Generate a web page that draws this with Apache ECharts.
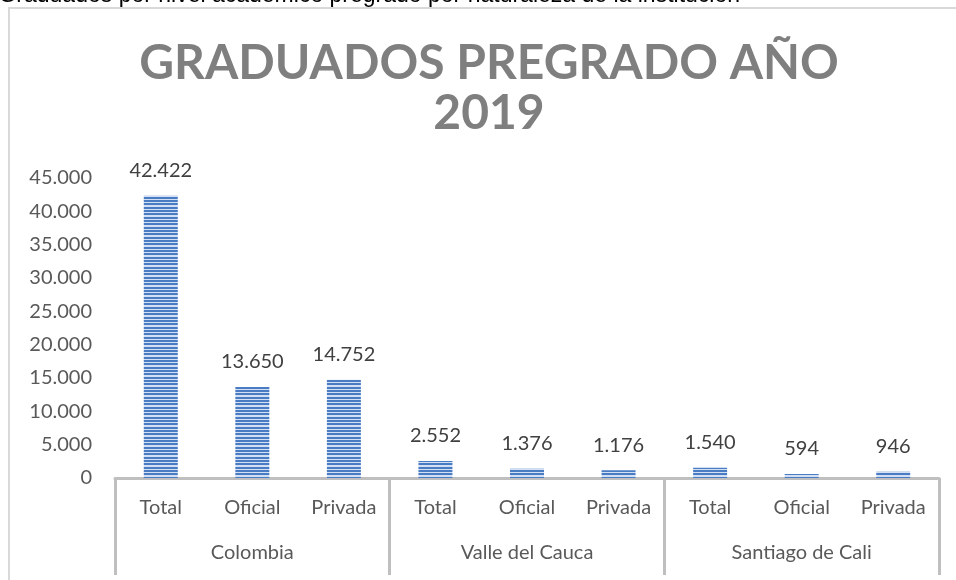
<!DOCTYPE html>
<html>
<head>
<meta charset="utf-8">
<script src="https://cdn.jsdelivr.net/npm/echarts@6/dist/echarts.min.js"></script>
<style>
  html, body { margin: 0; padding: 0; background: #fff; }
  #chart { width: 956px; height: 580px; }
</style>
</head>
<body>
<div id="chart"></div>
<script>
// datos del gráfico
const categorias = ['Total', 'Oficial', 'Privada', 'Total', 'Oficial', 'Privada', 'Total', 'Oficial', 'Privada']
const grupos = ['Colombia', 'Valle del Cauca', 'Santiago de Cali']
const graduados = [42422, 13650, 14752, 2552, 1376, 1176, 1540, 594, 946]
const ejeY = { min: 0, max: 45000, interval: 5000 }

// separador de miles con punto
const miles = v => String(v).replace(/\B(?=(\d{3})+(?!\d))/g, '.')

// trama de rayas horizontales para las barras
const rayas = document.createElement('canvas')
rayas.width = 4
rayas.height = 10
const ctx = rayas.getContext('2d')
ctx.fillStyle = '#d3dff2'
ctx.fillRect(0, 0, 4, 10)
ctx.fillStyle = '#4a7cc4'
;[[0, 2], [3, 2], [7, 2]].forEach(([y, h]) => ctx.fillRect(0, y, 4, h))

const chart = echarts.init(document.getElementById('chart'))

const fuente = 'Lato, "Open Sans", sans-serif'

chart.setOption({
  animation: false,
  title: {
    text: 'GRADUADOS PREGRADO AÑO\n2019',
    left: 484,
    top: 34,
    textAlign: 'center',
    textStyle: {
      fontFamily: fuente,
      fontSize: 48,
      fontWeight: 'bold',
      lineHeight: 50,
      color: '#7f7f7f'
    }
  },
  graphic: [
    {
      type: 'rect',
      shape: { x: 9, y: 8, width: 1000, height: 620 },
      style: { fill: 'none', stroke: '#d9d9d9', lineWidth: 2 },
      silent: true
    },
    {
      // pie de figura del documento, cortado por el borde superior
      type: 'text',
      x: 740,
      y: 7,
      style: {
        text: 'Gráfico 3. Graduados por nivel académico pregrado por naturaleza de la institución',
        font: '23px "Liberation Sans", Arial, sans-serif',
        fill: '#000',
        align: 'right',
        verticalAlign: 'bottom'
      },
      silent: true
    }
  ],
  grid: { left: 115, right: 17, top: 178, bottom: 102 },
  xAxis: [
    {
      type: 'category',
      data: categorias,
      position: 'bottom',
      axisLine: { lineStyle: { color: '#bfbfbf', width: 3 } },
      axisTick: { show: false },
      axisLabel: { margin: 20, fontSize: 20, fontFamily: fuente, color: '#595959', interval: 0 }
    },
    {
      type: 'category',
      data: grupos,
      position: 'bottom',
      offset: 0,
      axisLine: { show: false },
      axisTick: { show: true, length: 97, lineStyle: { color: '#bfbfbf', width: 3 } },
      axisLabel: { margin: 65, fontSize: 20, fontFamily: fuente, color: '#595959', interval: 0 }
    }
  ],
  yAxis: {
    type: 'value',
    min: ejeY.min,
    max: ejeY.max,
    interval: ejeY.interval,
    axisLine: { show: false },
    axisTick: { show: false },
    splitLine: { show: false },
    axisLabel: {
      margin: 23,
      fontSize: 20,
      fontFamily: fuente,
      color: '#595959',
      formatter: miles
    }
  },
  series: [{
    type: 'bar',
    xAxisIndex: 0,
    data: graduados,
    barWidth: 34,
    itemStyle: {
      color: { image: rayas, repeat: 'repeat' }
    },
    label: {
      show: true,
      position: 'top',
      distance: 15,
      fontSize: 20,
      fontFamily: fuente,
      color: '#404040',
      formatter: p => miles(p.value)
    }
  }]
})
</script>
</body>
</html>
